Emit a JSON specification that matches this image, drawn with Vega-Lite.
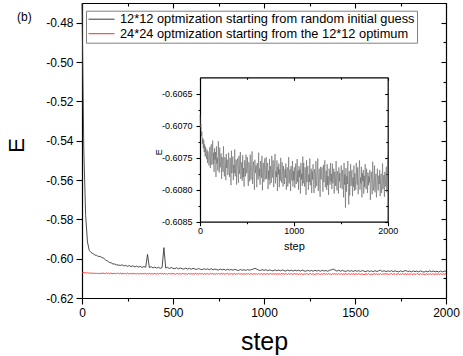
{
  "$schema": "https://vega.github.io/schema/vega-lite/v6.json",
  "width": 364,
  "height": 295,
  "autosize": "none",
  "padding": {"left": 82, "top": 3, "right": 17, "bottom": 58},
  "background": "white",
  "title": {"text": "(b)", "anchor": "start", "frame": "group", "orient": "top", "offset": -15, "dx": -65, "dy": 17, "baseline": "alphabetic", "fontSize": 12, "fontWeight": "normal", "font": "Liberation Sans", "color": "#000"},
  "config": {
    "font": "Liberation Sans",
    "view": {"stroke": null},
    "axis": {"domainColor": "#000", "tickColor": "#000", "labelColor": "#000", "titleColor": "#000", "grid": false, "labelFont": "Liberation Sans", "titleFont": "Liberation Sans", "titleFontWeight": "normal", "labelFlush": false, "labelOverlap": false, "domainWidth": 1.2, "tickWidth": 1.1}
  },
  "datasets": {
    "black": [
      {"s":0,"E":-0.47},{"s":10,"E":-0.545},{"s":20,"E":-0.578},{"s":30,"E":-0.5915},{"s":40,"E":-0.5958},{"s":50,"E":-0.5969},{"s":60,"E":-0.5974},{"s":70,"E":-0.5981},{"s":80,"E":-0.5983},{"s":90,"E":-0.5989},
      {"s":100,"E":-0.5988},{"s":110,"E":-0.5995},{"s":120,"E":-0.5998},{"s":130,"E":-0.6007},{"s":140,"E":-0.6012},{"s":150,"E":-0.6019},{"s":160,"E":-0.6021},{"s":170,"E":-0.6027},{"s":180,"E":-0.6027},{"s":190,"E":-0.6032},
      {"s":200,"E":-0.6032},{"s":210,"E":-0.6035},{"s":220,"E":-0.6031},{"s":230,"E":-0.6037},{"s":240,"E":-0.6034},{"s":250,"E":-0.6039},{"s":260,"E":-0.6035},{"s":270,"E":-0.6041},{"s":280,"E":-0.6036},{"s":290,"E":-0.6042},
      {"s":300,"E":-0.6038},{"s":310,"E":-0.6043},{"s":320,"E":-0.6039},{"s":330,"E":-0.6045},{"s":340,"E":-0.6040},{"s":350,"E":-0.6044},{"s":360,"E":-0.5978},{"s":370,"E":-0.6045},{"s":380,"E":-0.6041},{"s":390,"E":-0.6047},
      {"s":400,"E":-0.6043},{"s":410,"E":-0.6048},{"s":420,"E":-0.6044},{"s":430,"E":-0.6049},{"s":440,"E":-0.6045},{"s":450,"E":-0.5944},{"s":460,"E":-0.6048},{"s":470,"E":-0.6044},{"s":480,"E":-0.6050},{"s":490,"E":-0.6045},
      {"s":500,"E":-0.6049},{"s":510,"E":-0.6051},{"s":520,"E":-0.6046},{"s":530,"E":-0.6052},{"s":540,"E":-0.6047},{"s":550,"E":-0.6051},{"s":560,"E":-0.6053},{"s":570,"E":-0.6048},{"s":580,"E":-0.6053},{"s":590,"E":-0.6049},
      {"s":600,"E":-0.6054},{"s":610,"E":-0.6049},{"s":620,"E":-0.6053},{"s":630,"E":-0.6055},{"s":640,"E":-0.6050},{"s":650,"E":-0.6054},{"s":660,"E":-0.6056},{"s":670,"E":-0.6051},{"s":680,"E":-0.6055},{"s":690,"E":-0.6052},
      {"s":700,"E":-0.6056},{"s":710,"E":-0.6051},{"s":720,"E":-0.6057},{"s":730,"E":-0.6053},{"s":740,"E":-0.6056},{"s":750,"E":-0.6058},{"s":760,"E":-0.6053},{"s":770,"E":-0.6057},{"s":780,"E":-0.6054},{"s":790,"E":-0.6059},
      {"s":800,"E":-0.6054},{"s":810,"E":-0.6058},{"s":820,"E":-0.6055},{"s":830,"E":-0.6059},{"s":840,"E":-0.6054},{"s":850,"E":-0.6058},{"s":860,"E":-0.6060},{"s":870,"E":-0.6055},{"s":880,"E":-0.6059},{"s":890,"E":-0.6056},
      {"s":900,"E":-0.6060},{"s":910,"E":-0.6055},{"s":920,"E":-0.6059},{"s":930,"E":-0.6056},{"s":940,"E":-0.6053},{"s":950,"E":-0.6049},{"s":960,"E":-0.6053},{"s":970,"E":-0.6058},{"s":980,"E":-0.6060},{"s":990,"E":-0.6056},
      {"s":1000,"E":-0.6060},{"s":1010,"E":-0.6056},{"s":1020,"E":-0.6061},{"s":1030,"E":-0.6057},{"s":1040,"E":-0.6060},{"s":1050,"E":-0.6062},{"s":1060,"E":-0.6057},{"s":1070,"E":-0.6061},{"s":1080,"E":-0.6058},{"s":1090,"E":-0.6062},
      {"s":1100,"E":-0.6057},{"s":1110,"E":-0.6061},{"s":1120,"E":-0.6063},{"s":1130,"E":-0.6058},{"s":1140,"E":-0.6062},{"s":1150,"E":-0.6059},{"s":1160,"E":-0.6063},{"s":1170,"E":-0.6058},{"s":1180,"E":-0.6062},{"s":1190,"E":-0.6059},
      {"s":1200,"E":-0.6063},{"s":1210,"E":-0.6058},{"s":1220,"E":-0.6062},{"s":1230,"E":-0.6064},{"s":1240,"E":-0.6059},{"s":1250,"E":-0.6063},{"s":1260,"E":-0.6060},{"s":1270,"E":-0.6064},{"s":1280,"E":-0.6059},{"s":1290,"E":-0.6063},
      {"s":1300,"E":-0.6060},{"s":1310,"E":-0.6064},{"s":1320,"E":-0.6059},{"s":1330,"E":-0.6063},{"s":1340,"E":-0.6060},{"s":1350,"E":-0.6064},{"s":1360,"E":-0.6059},{"s":1370,"E":-0.6057},{"s":1380,"E":-0.6053},{"s":1390,"E":-0.6058},
      {"s":1400,"E":-0.6063},{"s":1410,"E":-0.6059},{"s":1420,"E":-0.6064},{"s":1430,"E":-0.6060},{"s":1440,"E":-0.6063},{"s":1450,"E":-0.6065},{"s":1460,"E":-0.6060},{"s":1470,"E":-0.6064},{"s":1480,"E":-0.6061},{"s":1490,"E":-0.6065},
      {"s":1500,"E":-0.6060},{"s":1510,"E":-0.6064},{"s":1520,"E":-0.6061},{"s":1530,"E":-0.6065},{"s":1540,"E":-0.6060},{"s":1550,"E":-0.6064},{"s":1560,"E":-0.6066},{"s":1570,"E":-0.6061},{"s":1580,"E":-0.6065},{"s":1590,"E":-0.6062},
      {"s":1600,"E":-0.6066},{"s":1610,"E":-0.6061},{"s":1620,"E":-0.6065},{"s":1630,"E":-0.6062},{"s":1640,"E":-0.6059},{"s":1650,"E":-0.6065},{"s":1660,"E":-0.6061},{"s":1670,"E":-0.6066},{"s":1680,"E":-0.6062},{"s":1690,"E":-0.6065},
      {"s":1700,"E":-0.6061},{"s":1710,"E":-0.6066},{"s":1720,"E":-0.6062},{"s":1730,"E":-0.6065},{"s":1740,"E":-0.6067},{"s":1750,"E":-0.6062},{"s":1760,"E":-0.6066},{"s":1770,"E":-0.6063},{"s":1780,"E":-0.6060},{"s":1790,"E":-0.6066},
      {"s":1800,"E":-0.6063},{"s":1810,"E":-0.6067},{"s":1820,"E":-0.6062},{"s":1830,"E":-0.6066},{"s":1840,"E":-0.6063},{"s":1850,"E":-0.6067},{"s":1860,"E":-0.6062},{"s":1870,"E":-0.6066},{"s":1880,"E":-0.6068},{"s":1890,"E":-0.6063},
      {"s":1900,"E":-0.6067},{"s":1910,"E":-0.6062},{"s":1920,"E":-0.6066},{"s":1930,"E":-0.6063},{"s":1940,"E":-0.6067},{"s":1950,"E":-0.6064},{"s":1960,"E":-0.6068},{"s":1970,"E":-0.6063},{"s":1980,"E":-0.6067},{"s":1990,"E":-0.6064},
      {"s":2000,"E":-0.6063}
    ],
    "red": [
      {"s":0,"E":-0.60683},{"s":5,"E":-0.60702},{"s":10,"E":-0.60698},{"s":15,"E":-0.60716},{"s":20,"E":-0.60709},{"s":25,"E":-0.60728},{"s":30,"E":-0.60719},{"s":35,"E":-0.60735},{"s":40,"E":-0.60722},{"s":45,"E":-0.60741},{"s":50,"E":-0.60729},{"s":55,"E":-0.60748},{"s":60,"E":-0.60733},{"s":65,"E":-0.60745},{"s":70,"E":-0.60752},{"s":75,"E":-0.60737},{"s":80,"E":-0.60758},{"s":85,"E":-0.6074},{"s":90,"E":-0.60749},{"s":95,"E":-0.60762},
      {"s":100,"E":-0.60752},{"s":105,"E":-0.60733},{"s":110,"E":-0.60766},{"s":115,"E":-0.60741},{"s":120,"E":-0.60729},{"s":125,"E":-0.60761},{"s":130,"E":-0.60751},{"s":135,"E":-0.60723},{"s":140,"E":-0.6076},{"s":145,"E":-0.60742},{"s":150,"E":-0.60772},{"s":155,"E":-0.60735},{"s":160,"E":-0.60753},{"s":165,"E":-0.60741},{"s":170,"E":-0.6078},{"s":175,"E":-0.60732},{"s":180,"E":-0.60759},{"s":185,"E":-0.6075},{"s":190,"E":-0.6077},{"s":195,"E":-0.60724},
      {"s":200,"E":-0.60749},{"s":205,"E":-0.60773},{"s":210,"E":-0.60734},{"s":215,"E":-0.60765},{"s":220,"E":-0.60758},{"s":225,"E":-0.60743},{"s":230,"E":-0.60783},{"s":235,"E":-0.60749},{"s":240,"E":-0.60756},{"s":245,"E":-0.60772},{"s":250,"E":-0.60732},{"s":255,"E":-0.60766},{"s":260,"E":-0.60779},{"s":265,"E":-0.60749},{"s":270,"E":-0.60756},{"s":275,"E":-0.60785},{"s":280,"E":-0.60744},{"s":285,"E":-0.60766},{"s":290,"E":-0.60753},{"s":295,"E":-0.60777},
      {"s":300,"E":-0.60774},{"s":305,"E":-0.60742},{"s":310,"E":-0.60766},{"s":315,"E":-0.6078},{"s":320,"E":-0.6075},{"s":325,"E":-0.60762},{"s":330,"E":-0.60793},{"s":335,"E":-0.60739},{"s":340,"E":-0.60774},{"s":345,"E":-0.60758},{"s":350,"E":-0.60748},{"s":355,"E":-0.60785},{"s":360,"E":-0.60761},{"s":365,"E":-0.60774},{"s":370,"E":-0.60737},{"s":375,"E":-0.60779},{"s":380,"E":-0.60767},{"s":385,"E":-0.60753},{"s":390,"E":-0.60792},{"s":395,"E":-0.60758},
      {"s":400,"E":-0.60751},{"s":405,"E":-0.60771},{"s":410,"E":-0.60789},{"s":415,"E":-0.60747},{"s":420,"E":-0.60775},{"s":425,"E":-0.60763},{"s":430,"E":-0.60741},{"s":435,"E":-0.60783},{"s":440,"E":-0.60768},{"s":445,"E":-0.60757},{"s":450,"E":-0.60786},{"s":455,"E":-0.60746},{"s":460,"E":-0.6078},{"s":465,"E":-0.60766},{"s":470,"E":-0.60795},{"s":475,"E":-0.60754},{"s":480,"E":-0.60761},{"s":485,"E":-0.60779},{"s":490,"E":-0.60745},{"s":495,"E":-0.60774},
      {"s":500,"E":-0.60773},{"s":505,"E":-0.60749},{"s":510,"E":-0.60781},{"s":515,"E":-0.60794},{"s":520,"E":-0.60757},{"s":525,"E":-0.60766},{"s":530,"E":-0.60787},{"s":535,"E":-0.60745},{"s":540,"E":-0.60776},{"s":545,"E":-0.60784},{"s":550,"E":-0.60761},{"s":555,"E":-0.6074},{"s":560,"E":-0.60791},{"s":565,"E":-0.60769},{"s":570,"E":-0.60756},{"s":575,"E":-0.60779},{"s":580,"E":-0.608},{"s":585,"E":-0.60753},{"s":590,"E":-0.60774},{"s":595,"E":-0.60764},
      {"s":600,"E":-0.60762},{"s":605,"E":-0.60796},{"s":610,"E":-0.60758},{"s":615,"E":-0.60772},{"s":620,"E":-0.60784},{"s":625,"E":-0.60742},{"s":630,"E":-0.60779},{"s":635,"E":-0.60767},{"s":640,"E":-0.60792},{"s":645,"E":-0.60755},{"s":650,"E":-0.60765},{"s":655,"E":-0.60781},{"s":660,"E":-0.60747},{"s":665,"E":-0.60801},{"s":670,"E":-0.6077},{"s":675,"E":-0.60758},{"s":680,"E":-0.60788},{"s":685,"E":-0.60775},{"s":690,"E":-0.60751},{"s":695,"E":-0.60784},
      {"s":700,"E":-0.60778},{"s":705,"E":-0.60749},{"s":710,"E":-0.60783},{"s":715,"E":-0.60765},{"s":720,"E":-0.60758},{"s":725,"E":-0.60799},{"s":730,"E":-0.6077},{"s":735,"E":-0.60784},{"s":740,"E":-0.60752},{"s":745,"E":-0.60792},{"s":750,"E":-0.60763},{"s":755,"E":-0.60774},{"s":760,"E":-0.60789},{"s":765,"E":-0.60747},{"s":770,"E":-0.60769},{"s":775,"E":-0.60781},{"s":780,"E":-0.60754},{"s":785,"E":-0.60796},{"s":790,"E":-0.60778},{"s":795,"E":-0.60758},
      {"s":800,"E":-0.60744},{"s":805,"E":-0.6079},{"s":810,"E":-0.60771},{"s":815,"E":-0.6078},{"s":820,"E":-0.60754},{"s":825,"E":-0.60802},{"s":830,"E":-0.60764},{"s":835,"E":-0.60776},{"s":840,"E":-0.60759},{"s":845,"E":-0.60796},{"s":850,"E":-0.60768},{"s":855,"E":-0.60786},{"s":860,"E":-0.6075},{"s":865,"E":-0.60778},{"s":870,"E":-0.60789},{"s":875,"E":-0.60757},{"s":880,"E":-0.6077},{"s":885,"E":-0.60795},{"s":890,"E":-0.60763},{"s":895,"E":-0.60783},
      {"s":900,"E":-0.60791},{"s":905,"E":-0.60768},{"s":910,"E":-0.60781},{"s":915,"E":-0.60759},{"s":920,"E":-0.608},{"s":925,"E":-0.60772},{"s":930,"E":-0.60765},{"s":935,"E":-0.60795},{"s":940,"E":-0.60783},{"s":945,"E":-0.60749},{"s":950,"E":-0.6079},{"s":955,"E":-0.60775},{"s":960,"E":-0.60768},{"s":965,"E":-0.60802},{"s":970,"E":-0.60763},{"s":975,"E":-0.60778},{"s":980,"E":-0.60786},{"s":985,"E":-0.60755},{"s":990,"E":-0.60795},{"s":995,"E":-0.60771},
      {"s":1000,"E":-0.60785},{"s":1005,"E":-0.60765},{"s":1010,"E":-0.60797},{"s":1015,"E":-0.60772},{"s":1020,"E":-0.60759},{"s":1025,"E":-0.60791},{"s":1030,"E":-0.6078},{"s":1035,"E":-0.60752},{"s":1040,"E":-0.60788},{"s":1045,"E":-0.6077},{"s":1050,"E":-0.608},{"s":1055,"E":-0.60763},{"s":1060,"E":-0.6078},{"s":1065,"E":-0.60768},{"s":1070,"E":-0.60806},{"s":1075,"E":-0.60758},{"s":1080,"E":-0.60784},{"s":1085,"E":-0.60775},{"s":1090,"E":-0.60794},{"s":1095,"E":-0.60748},
      {"s":1100,"E":-0.6079},{"s":1105,"E":-0.60758},{"s":1110,"E":-0.60782},{"s":1115,"E":-0.60795},{"s":1120,"E":-0.60765},{"s":1125,"E":-0.60777},{"s":1130,"E":-0.60808},{"s":1135,"E":-0.60754},{"s":1140,"E":-0.60788},{"s":1145,"E":-0.60772},{"s":1150,"E":-0.60763},{"s":1155,"E":-0.608},{"s":1160,"E":-0.60776},{"s":1165,"E":-0.60788},{"s":1170,"E":-0.60751},{"s":1175,"E":-0.60793},{"s":1180,"E":-0.60781},{"s":1185,"E":-0.60767},{"s":1190,"E":-0.60805},{"s":1195,"E":-0.60771},
      {"s":1200,"E":-0.60784},{"s":1205,"E":-0.6076},{"s":1210,"E":-0.60792},{"s":1215,"E":-0.60805},{"s":1220,"E":-0.60768},{"s":1225,"E":-0.60776},{"s":1230,"E":-0.60797},{"s":1235,"E":-0.60755},{"s":1240,"E":-0.60786},{"s":1245,"E":-0.60794},{"s":1250,"E":-0.60772},{"s":1255,"E":-0.60751},{"s":1260,"E":-0.60802},{"s":1265,"E":-0.6078},{"s":1270,"E":-0.60767},{"s":1275,"E":-0.6079},{"s":1280,"E":-0.60811},{"s":1285,"E":-0.60764},{"s":1290,"E":-0.60784},{"s":1295,"E":-0.60774},
      {"s":1300,"E":-0.60765},{"s":1305,"E":-0.60785},{"s":1310,"E":-0.60803},{"s":1315,"E":-0.60761},{"s":1320,"E":-0.60788},{"s":1325,"E":-0.60776},{"s":1330,"E":-0.60754},{"s":1335,"E":-0.60796},{"s":1340,"E":-0.60781},{"s":1345,"E":-0.6077},{"s":1350,"E":-0.608},{"s":1355,"E":-0.6076},{"s":1360,"E":-0.60793},{"s":1365,"E":-0.60779},{"s":1370,"E":-0.60808},{"s":1375,"E":-0.60767},{"s":1380,"E":-0.60774},{"s":1385,"E":-0.60792},{"s":1390,"E":-0.60758},{"s":1395,"E":-0.60787},
      {"s":1400,"E":-0.60775},{"s":1405,"E":-0.60799},{"s":1410,"E":-0.60759},{"s":1415,"E":-0.6079},{"s":1420,"E":-0.60782},{"s":1425,"E":-0.60767},{"s":1430,"E":-0.60806},{"s":1435,"E":-0.60772},{"s":1440,"E":-0.60779},{"s":1445,"E":-0.60794},{"s":1450,"E":-0.60755},{"s":1455,"E":-0.60789},{"s":1460,"E":-0.60801},{"s":1465,"E":-0.60771},{"s":1470,"E":-0.60778},{"s":1475,"E":-0.60806},{"s":1480,"E":-0.60765},{"s":1485,"E":-0.60787},{"s":1490,"E":-0.60774},{"s":1495,"E":-0.60797},
      {"s":1500,"E":-0.60794},{"s":1505,"E":-0.60762},{"s":1510,"E":-0.60786},{"s":1515,"E":-0.60799},{"s":1520,"E":-0.60769},{"s":1525,"E":-0.60781},{"s":1530,"E":-0.60812},{"s":1535,"E":-0.60758},{"s":1540,"E":-0.60792},{"s":1545,"E":-0.60776},{"s":1550,"E":-0.60828},{"s":1555,"E":-0.60766},{"s":1560,"E":-0.60803},{"s":1565,"E":-0.60779},{"s":1570,"E":-0.60791},{"s":1575,"E":-0.60755},{"s":1580,"E":-0.60797},{"s":1585,"E":-0.60823},{"s":1590,"E":-0.60771},{"s":1595,"E":-0.60809},
      {"s":1600,"E":-0.60789},{"s":1605,"E":-0.6076},{"s":1610,"E":-0.60794},{"s":1615,"E":-0.60776},{"s":1620,"E":-0.60769},{"s":1625,"E":-0.6081},{"s":1630,"E":-0.60781},{"s":1635,"E":-0.60795},{"s":1640,"E":-0.60762},{"s":1645,"E":-0.60802},{"s":1650,"E":-0.60774},{"s":1655,"E":-0.60785},{"s":1660,"E":-0.608},{"s":1665,"E":-0.60758},{"s":1670,"E":-0.6078},{"s":1675,"E":-0.60792},{"s":1680,"E":-0.60765},{"s":1685,"E":-0.60807},{"s":1690,"E":-0.60789},{"s":1695,"E":-0.60769},
      {"s":1700,"E":-0.60754},{"s":1705,"E":-0.608},{"s":1710,"E":-0.60781},{"s":1715,"E":-0.6079},{"s":1720,"E":-0.60764},{"s":1725,"E":-0.60812},{"s":1730,"E":-0.60774},{"s":1735,"E":-0.60786},{"s":1740,"E":-0.60769},{"s":1745,"E":-0.60806},{"s":1750,"E":-0.60778},{"s":1755,"E":-0.60796},{"s":1760,"E":-0.6076},{"s":1765,"E":-0.60788},{"s":1770,"E":-0.60799},{"s":1775,"E":-0.60767},{"s":1780,"E":-0.6078},{"s":1785,"E":-0.60805},{"s":1790,"E":-0.60773},{"s":1795,"E":-0.60793},
      {"s":1800,"E":-0.60779},{"s":1805,"E":-0.60789},{"s":1810,"E":-0.60769},{"s":1815,"E":-0.60816},{"s":1820,"E":-0.60795},{"s":1825,"E":-0.60772},{"s":1830,"E":-0.60785},{"s":1835,"E":-0.60807},{"s":1840,"E":-0.60756},{"s":1845,"E":-0.60777},{"s":1850,"E":-0.60801},{"s":1855,"E":-0.60793},{"s":1860,"E":-0.60762},{"s":1865,"E":-0.60804},{"s":1870,"E":-0.60783},{"s":1875,"E":-0.60775},{"s":1880,"E":-0.60812},{"s":1885,"E":-0.60799},{"s":1890,"E":-0.60767},{"s":1895,"E":-0.60791},
      {"s":1900,"E":-0.60801},{"s":1905,"E":-0.60778},{"s":1910,"E":-0.60791},{"s":1915,"E":-0.60769},{"s":1920,"E":-0.6081},{"s":1925,"E":-0.60782},{"s":1930,"E":-0.60775},{"s":1935,"E":-0.60805},{"s":1940,"E":-0.60793},{"s":1945,"E":-0.60759},{"s":1950,"E":-0.60799},{"s":1955,"E":-0.60784},{"s":1960,"E":-0.60777},{"s":1965,"E":-0.60811},{"s":1970,"E":-0.60772},{"s":1975,"E":-0.60787},{"s":1980,"E":-0.60795},{"s":1985,"E":-0.60764},{"s":1990,"E":-0.60804},{"s":1995,"E":-0.6078},
      {"s":2000,"E":-0.60745}
    ]
  },
  "layer": [
    {
      "layer": [
        {
          "data": {"name": "black"},
          "mark": {"type": "line", "strokeWidth": 0.9},
          "encoding": {
            "x": {"field": "s", "type": "quantitative", "scale": {"domain": [0, 2000], "nice": false, "zero": false},
              "axis": {"orient": "bottom", "values": [0,250,500,750,1000,1250,1500,1750,2000],
                "labelExpr": "datum.value % 500 === 0 ? format(datum.value, 'd') : ''",
                "tickSize": {"condition": {"test": "datum.value % 500 === 0", "value": 6}, "value": 3},
                "labelFontSize": 12, "labelPadding": 3, "title": "step", "titleFontSize": 25, "titleBaseline": "alphabetic", "titleY": 51}},
            "y": {"field": "E", "type": "quantitative", "scale": {"domain": [-0.62, -0.47], "nice": false, "zero": false},
              "axis": {"orient": "left", "values": [-0.62,-0.61,-0.6,-0.59,-0.58,-0.57,-0.56,-0.55,-0.54,-0.53,-0.52,-0.51,-0.5,-0.49,-0.48,-0.47],
                "labelExpr": "round(datum.value*100) % 2 === 0 ? '-' + format(-datum.value, '.2f') : ''",
                "tickSize": {"condition": {"test": "round(datum.value*100) % 2 === 0", "value": 6}, "value": 3},
                "labelFontSize": 12, "labelPadding": 3, "title": "E", "titleFontSize": 22, "titleAngle": -90, "titleBaseline": "alphabetic", "titleAlign": "center", "titleX": -59, "titleY": 142}},
            "color": {"datum": "12*12 optmization starting from random initial guess", "type": "nominal",
              "scale": {"domain": ["12*12 optmization starting from random initial guess", "24*24 optmization starting from the 12*12 optimum"], "range": ["#3a3a3a", "#ff2a2a"]},
              "legend": {"orient": "none", "legendX": 4, "legendY": 7.7, "title": null, "symbolType": "stroke", "symbolSize": 676, "symbolStrokeWidth": 1, "clipHeight": 13, "labelFontSize": 12.8, "labelFont": "Liberation Sans", "labelColor": "#000", "labelOffset": 5, "labelLimit": 500, "rowPadding": 0.5, "padding": 2, "strokeColor": "#808080", "fillColor": "#ffffff"}}
          }
        },
        {
          "data": {"name": "red"},
          "mark": {"type": "line", "strokeWidth": 0.9},
          "encoding": {
            "x": {"field": "s", "type": "quantitative"},
            "y": {"field": "E", "type": "quantitative"},
            "color": {"datum": "24*24 optmization starting from the 12*12 optimum", "type": "nominal"}
          }
        }
      ]
    },
    {
      "data": {"name": "red"},
      "mark": {"type": "point", "opacity": 0},
      "encoding": {
        "x": {"field": "s", "type": "quantitative", "scale": {"domain": [0, 2000], "nice": false, "zero": false},
          "axis": {"orient": "top", "values": [0,250,500,750,1000,1250,1500,1750,2000], "labels": false, "title": null,
            "tickSize": {"condition": {"test": "datum.value % 500 === 0", "value": -5}, "value": -3}}},
        "y": {"field": "E", "type": "quantitative", "scale": {"domain": [-0.62, -0.47], "nice": false, "zero": false},
          "axis": {"orient": "right", "values": [-0.62,-0.61,-0.6,-0.59,-0.58,-0.57,-0.56,-0.55,-0.54,-0.53,-0.52,-0.51,-0.5,-0.49,-0.48,-0.47], "labels": false, "title": null,
            "tickSize": {"condition": {"test": "round(datum.value*100) % 2 === 0", "value": -5}, "value": -3}}}
      }
    },
    {
      "data": {"name": "red"},
      "mark": {"type": "line", "strokeWidth": 0.55, "color": "#5e5e5e"},
      "encoding": {
        "x": {"field": "s", "type": "quantitative", "scale": {"domain": [0, 2000], "range": [118, 305.7], "nice": false, "zero": false},
          "axis": {"orient": "bottom", "offset": -76.3, "values": [0,500,1000,1500,2000],
            "labelExpr": "datum.value % 1000 === 0 ? format(datum.value, 'd') : ''",
            "tickSize": {"condition": {"test": "datum.value % 1000 === 0", "value": 4}, "value": 2},
            "labelFontSize": 9, "labelPadding": 1, "title": "step", "titleFontSize": 11, "titleBaseline": "alphabetic", "titleY": 27.6}},
        "y": {"field": "E", "type": "quantitative", "scale": {"domain": [-0.6085, -0.60624], "range": [218.7, 74.3], "nice": false, "zero": false},
          "axis": {"orient": "left", "offset": -118, "values": [-0.6085,-0.60825,-0.608,-0.60775,-0.6075,-0.60725,-0.607,-0.60675,-0.6065],
            "labelExpr": "round(datum.value*4000) % 2 === 0 ? '-' + format(-datum.value, '.4f') : ''",
            "tickSize": {"condition": {"test": "round(datum.value*4000) % 2 === 0", "value": 4}, "value": 2},
            "labelFontSize": 9, "labelPadding": 4, "title": "E", "titleFontSize": 9, "titleAngle": -90, "titleBaseline": "alphabetic", "titleAlign": "center", "titleX": -38.3, "titleY": 148.7}}
      }
    },
    {
      "data": {"name": "red"},
      "mark": {"type": "point", "opacity": 0},
      "encoding": {
        "x": {"field": "s", "type": "quantitative", "scale": {"domain": [0, 2000], "range": [118, 305.7], "nice": false, "zero": false},
          "axis": {"orient": "top", "offset": -74.3, "values": [0,500,1000,1500,2000], "labels": false, "title": null,
            "tickSize": {"condition": {"test": "datum.value % 1000 === 0", "value": -3}, "value": -2}}},
        "y": {"field": "E", "type": "quantitative", "scale": {"domain": [-0.6085, -0.60624], "range": [218.7, 74.3], "nice": false, "zero": false},
          "axis": {"orient": "right", "offset": -58.3, "values": [-0.6085,-0.60825,-0.608,-0.60775,-0.6075,-0.60725,-0.607,-0.60675,-0.6065], "labels": false, "title": null,
            "tickSize": {"condition": {"test": "round(datum.value*4000) % 2 === 0", "value": -3}, "value": -2}}}
      }
    }
  ],
  "resolve": {"scale": {"x": "independent", "y": "independent"}}
}
